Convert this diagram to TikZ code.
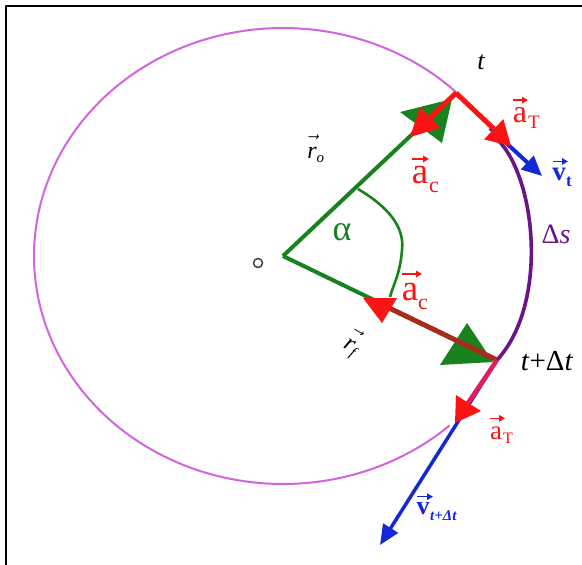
\documentclass[tikz,border=0pt]{standalone}
\usepackage{fontspec}
\setmainfont{Liberation Serif}
\usetikzlibrary{arrows.meta}
\definecolor{pinkc}{RGB}{210,100,220}
\definecolor{purp}{RGB}{105,20,135}
\definecolor{grn}{RGB}{25,130,30}
\definecolor{rd}{RGB}{250,20,20}
\definecolor{drd}{RGB}{165,45,25}
\definecolor{blu}{RGB}{20,40,215}
\definecolor{mag}{RGB}{225,30,90}
\newcommand{\subx}[2]{\mbox{\fontsize{#1}{#1}\selectfont #2}}
\tikzset{
  fs/.style={font=\fontsize{#1}{#1}\selectfont},
  lbl/.style={inner sep=0pt},
  varr/.style={line width=1.4pt, -{Triangle[length=6pt,width=6.5pt]}},
}
\begin{document}
\begin{tikzpicture}[x=1pt,y=-1pt,line join=round]
\useasboundingbox (0,0) rectangle (582,565);
\fill[white] (0,0) rectangle (582,565);
\draw[line width=2pt] (6,565) -- (6,6) -- (582,6);

\coordinate (O) at (283,256);
\coordinate (T) at (456,93);
\coordinate (T2) at (497,360);
\coordinate (Tv) at (542,176);
\coordinate (T2v) at (380,545);

% circle (ellipse) path
\draw[pinkc, line width=2pt] plot[smooth, domain=46:312, samples=120] ({283+249*cos(\x)},{256-228*sin(\x)});
% Delta s arc
\draw[purp, line width=3.6pt] (498,140) .. controls (537,180) and (548,305) .. (T2);

% alpha arc
\draw[grn, line width=2.6pt] (358,189) .. controls (385,205) and (405,225) .. (402,250) .. controls (400,275) and (393,285) .. (390,297);

% upper radius
\draw[grn, line width=4pt] (O) -- (T);
\fill[grn] (400,112) -- (452,99) -- (442,143) -- cycle;
\draw[rd, line width=5pt] (T) -- (430,118);
\fill[rd] (410,137) -- (440,128) -- (420,107) -- cycle;

% lower radius
\draw[grn, line width=4pt] (O) -- (376,301);
\fill[grn] (440,365) -- (467,323) -- (493,362) -- cycle;
\draw[drd, line width=5pt] (T2) -- (385,306);
\fill[rd] (363,298) -- (397,298) -- (382,323) -- cycle;

% velocities
\draw[blu, line width=4pt, -{Triangle[length=20pt,width=18pt]}] (490,128) -- (Tv);
\draw[blu, line width=3.5pt, -{Triangle[length=20pt,width=17pt]}] (T2) -- (T2v);

% tangential accelerations
\draw[rd, line width=5pt] (T) -- (494,129);
\fill[rd] (511,146) -- (503.4,119.2) -- (484,139.4) -- cycle;
\draw[mag, line width=4.5pt] (T2) -- (468,403);
\fill[rd] (455,423) -- (481,411) -- (456,395) -- cycle;

% centre mark
\node[circle, draw=black!75, line width=1.5pt, inner sep=0pt, minimum size=9pt] (ctr) at (258,263) {};

% plain labels
\node[fs=26] (lt) at (481,62) {\itshape t};
\node[fs=24] (lro) at (316,149) {$\vec{\vphantom{\mbox{\itshape d}}\mbox{\itshape r}}_{\subx{15}{\itshape o}}$};
\node[grn, fs=36] (lal) at (342,232) {α};
\node[purp, fs=28] (lds) at (556,234) {Δ\textit{s}};
\node[rotate=-30, fs=24] (lrf) at (353,344) {$\vec{\vphantom{\mbox{\itshape d}}\mbox{\itshape r}}_{\subx{15}{\itshape f}}$};
\node[fs=29] (ltdt) at (547,361) {\textit{t}+Δ\textit{t}};

% vector labels: letter, subscript, arrow above
\node[lbl, rd, fs=37] (ac1) at (420,175) {a};
\node[lbl, rd, fs=22, anchor=west] (ac1s) at (429,187) {c};
\draw[rd, varr] ([xshift=-8pt, yshift=7pt]ac1.north) -- ([xshift=9pt, yshift=7pt]ac1.north);

\node[lbl, rd, fs=32] (aT1) at (520,115) {a};
\node[lbl, rd, fs=19, anchor=west] (aT1s) at (528,122) {T};
\draw[rd, varr] ([xshift=-7pt, yshift=7pt]aT1.north) -- ([xshift=8pt, yshift=7pt]aT1.north);

\node[lbl, blu, fs=27] (vt1) at (559,174) {\bfseries v};
\node[lbl, blu, fs=17, anchor=west] (vt1s) at (566,182) {\bfseries t};
\draw[blu, varr] ([xshift=-6pt, yshift=6pt]vt1.north) -- ([xshift=9pt, yshift=6pt]vt1.north);

\node[lbl, rd, fs=37] (ac2) at (410,292) {a};
\node[lbl, rd, fs=22, anchor=west] (ac2s) at (418,304) {c};
\draw[rd, varr] ([xshift=-8pt, yshift=9pt]ac2.north) -- ([xshift=12pt, yshift=9pt]ac2.north);

\node[lbl, rd, fs=27] (aT2) at (496,433) {a};
\node[lbl, rd, fs=16, anchor=west] (aT2s) at (503,438) {T};
\draw[rd, varr] ([xshift=-6pt, yshift=8pt]aT2.north) -- ([xshift=9pt, yshift=8pt]aT2.north);

\node[lbl, blu, fs=26] (vt2) at (423,509) {\bfseries v};
\node[lbl, blu, fs=15, anchor=west] (vt2s) at (430,516) {\bfseries\itshape t+Δt};
\draw[blu, varr] ([xshift=-6pt, yshift=6pt]vt2.north) -- ([xshift=10pt, yshift=6pt]vt2.north);
\end{tikzpicture}
\end{document}
